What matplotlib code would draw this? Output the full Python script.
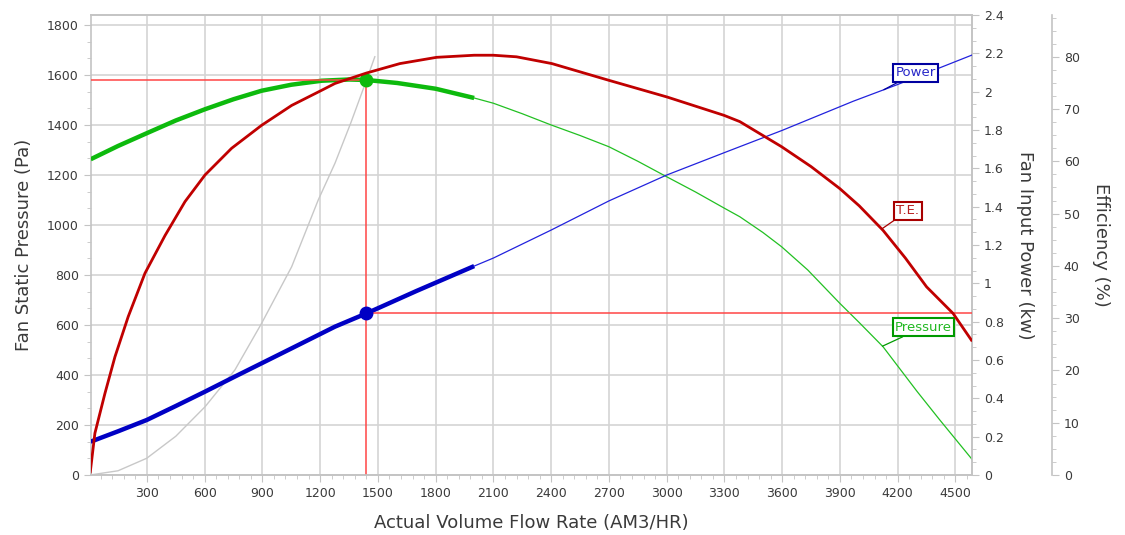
import matplotlib
matplotlib.use('Agg')
import matplotlib.pyplot as plt
from matplotlib.ticker import MultipleLocator, AutoMinorLocator, FormatStrFormatter
import numpy as np

plt.rcParams.update({'font.family': 'DejaVu Sans', 'font.size': 8.5})

# ---- data ----
pressure_flow = [8, 150, 299, 450, 602, 750, 896, 1050, 1208, 1350, 1440, 1600, 1800, 2000,
                 2100, 2250, 2400, 2550, 2700, 2850, 3000, 3150, 3300, 3380, 3500, 3597, 3733,
                 3899, 4000, 4124, 4300, 4419, 4586]
pressure_pa = [1263, 1316, 1367, 1418, 1463, 1503, 1537, 1561, 1577, 1582, 1580, 1568, 1545, 1508,
               1487, 1445, 1400, 1358, 1313, 1255, 1193, 1132, 1067, 1033, 970, 913, 820,
               687, 610, 513, 335, 220, 63]

power_flow = [8, 150, 299, 450, 602, 750, 896, 1050, 1277, 1440, 1700, 2000, 2100, 2400, 2700,
              3000, 3300, 3380, 3600, 3969, 4194, 4586]
power_kw = [0.174, 0.228, 0.287, 0.360, 0.435, 0.510, 0.583, 0.660, 0.774, 0.843, 0.960, 1.090,
            1.132, 1.278, 1.430, 1.565, 1.682, 1.713, 1.798, 1.950, 2.035, 2.191]

eff_flow = [6, 30, 82, 134, 203, 290, 394, 498, 602, 740, 896, 1052, 1208, 1277, 1441, 1614,
            1805, 2000, 2099, 2220, 2404, 2700, 3003, 3298, 3380, 3597, 3750, 3899, 4000, 4124,
            4240, 4350, 4488, 4583]
eff_pct = [0.6, 8.0, 15.6, 22.6, 30.3, 38.6, 45.8, 52.3, 57.4, 62.5, 66.9, 70.7, 73.6, 74.9,
           76.9, 78.7, 79.9, 80.3, 80.3, 80.0, 78.7, 75.5, 72.3, 68.8, 67.6, 62.8, 59.0, 54.8,
           51.5, 46.8, 41.5, 36.0, 30.9, 25.8]

system_flow = [4, 150, 299, 450, 602, 757, 896, 1052, 1190, 1277, 1360, 1441, 1484]
system_pa = [0, 17, 67, 155, 273, 420, 607, 833, 1100, 1247, 1410, 1580, 1673]

op_flow, op_pressure, op_power = 1440, 1580, 0.843
thick_end = 2000
x_min, x_max = 8, 4586

GREEN, BLUE, DRED, REF = '#0DBA0D', '#0000C4', '#C00000', '#FF4545'
GRID, SPINE, TXT = '#D4D4D4', '#C4C4C4', '#3A3A3A'

fig = plt.figure(figsize=(11.25, 5.35), dpi=100)
ax = fig.add_axes([0.0806, 0.1121, 0.7834, 0.8599])
axp = ax.twinx()
axe = ax.twinx()
axe.spines['right'].set_position(('axes', 1.0908))

pf, pp = np.array(pressure_flow), np.array(pressure_pa)
wf, wk = np.array(power_flow), np.array(power_kw)

# system curve
ax.plot(system_flow, system_pa, color='#C8C8C8', lw=1.0, zorder=2)
# pressure
m = pf <= thick_end
ax.plot(pf[m], pp[m], color=GREEN, lw=3.2, solid_capstyle='butt', zorder=3)
ax.plot(pf[pf >= thick_end], pp[pf >= thick_end], color='#22C022', lw=0.9, zorder=3)
# operating point reference lines
ax.plot([x_min, op_flow], [op_pressure, op_pressure], color=REF, lw=1.1, zorder=4)
ax.plot([op_flow, op_flow], [0, op_pressure], color=REF, lw=1.1, zorder=4)
ax.plot(op_flow, op_pressure, 'o', color=GREEN, ms=9, zorder=5)

# power
m = wf <= thick_end
axp.plot(wf[m], wk[m], color=BLUE, lw=3.2, solid_capstyle='butt', zorder=3)
axp.plot(wf[wf >= thick_end], wk[wf >= thick_end], color='#2222DD', lw=0.9, zorder=3)
axp.plot([op_flow, x_max], [op_power, op_power], color=REF, lw=1.1, zorder=4)
axp.plot(op_flow, op_power, 'o', color=BLUE, ms=9, zorder=5)

# efficiency
axe.plot(eff_flow, eff_pct, color=DRED, lw=2.0, zorder=3)

# limits / ticks
ax.set_xlim(x_min, x_max)
ax.set_ylim(0, 1840)
axp.set_ylim(0, 2.4)
axe.set_ylim(0, 88)

ax.set_xticks(list(range(300, 4501, 300)))
ax.xaxis.set_minor_locator(MultipleLocator(60))
ax.yaxis.set_major_locator(MultipleLocator(200))
ax.yaxis.set_minor_locator(AutoMinorLocator(3))
axp.yaxis.set_major_locator(MultipleLocator(0.2))
axp.yaxis.set_minor_locator(AutoMinorLocator(3))
axp.yaxis.set_major_formatter(FormatStrFormatter('%g'))
axe.yaxis.set_major_locator(MultipleLocator(10))
axe.yaxis.set_minor_locator(AutoMinorLocator(4))

ax.grid(True, which='major', color=GRID, lw=1.2, zorder=0)
ax.set_axisbelow(True)

for a in (ax, axp, axe):
    for s in a.spines.values():
        s.set_color(SPINE)
        s.set_linewidth(1.2)
    a.tick_params(which='both', colors=SPINE, labelcolor=TXT, labelsize=9, direction='out')
    a.tick_params(which='major', length=5)
    a.tick_params(which='minor', length=3)
axe.spines['left'].set_visible(False)
axe.spines['top'].set_visible(False)
axe.spines['bottom'].set_visible(False)
axp.spines['left'].set_visible(False)

ax.set_xlabel('Actual Volume Flow Rate (AM3/HR)', fontsize=13, color=TXT, labelpad=10)
ax.set_ylabel('Fan Static Pressure (Pa)', fontsize=13, color=TXT, labelpad=10)
axp.set_ylabel('Fan Input Power (kw)', fontsize=13, color=TXT, rotation=270, labelpad=22)
axe.set_ylabel('Efficiency (%)', fontsize=13, color=TXT, rotation=270, labelpad=22)

# callouts pointing at the curves
curves = {'Power': (power_flow, power_kw), 'T.E.': (eff_flow, eff_pct),
          'Pressure': (pressure_flow, pressure_pa)}


def callout(a, fx, text, dx, dy, edge, tcol):
    y = np.interp(fx, *curves[text])
    a.annotate(text, xy=(fx, y), xytext=(dx, dy), textcoords='offset pixels',
               ha='center', va='center', fontsize=9.5, color=tcol, zorder=10,
               bbox=dict(boxstyle='square,pad=0.18', fc='white', ec=edge, lw=1.5),
               arrowprops=dict(arrowstyle='-', color=edge, lw=0.9, shrinkA=0, shrinkB=0))


callout(axp, 4128, 'Power', 32, 17, '#0000A0', '#2828C8')
callout(axe, 4117, 'T.E.', 26, 18, '#A80000', '#B82020')
callout(ax, 4121, 'Pressure', 41, 19, '#009A00', '#22B822')

fig.savefig('out.png', dpi=100)
